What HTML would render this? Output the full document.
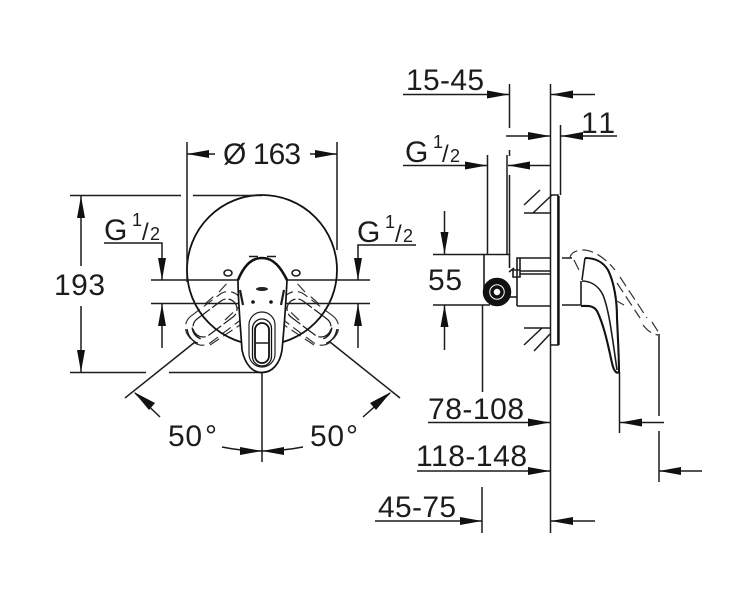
<!DOCTYPE html>
<html>
<head>
<meta charset="utf-8">
<style>
html,body{margin:0;padding:0;background:#fff}
svg{display:block;filter:blur(.35px)}
text{font-family:"Liberation Sans",sans-serif;fill:#1c1c1c;font-size:30px}
.s{font-size:18px}
.sl{font-size:24px}
.l{stroke:#1c1c1c;stroke-width:1.5;fill:none}
.t{stroke:#111;stroke-width:2.1;fill:none;stroke-linejoin:round}
.m{stroke:#1c1c1c;stroke-width:1.6;fill:none}
.d{stroke:#333;stroke-width:1.2;fill:none;stroke-dasharray:11 5}
.a{fill:#111;stroke:none}
</style>
</head>
<body>
<svg width="752" height="600" viewBox="0 0 752 600" xmlns="http://www.w3.org/2000/svg">
<!-- ghost handles (beneath faucet) -->
<g>
<g transform="rotate(-37 215 318)">
<rect x="190" y="308" width="50" height="20" rx="10" class="l" style="stroke-width:1.2" stroke-dasharray="16 3"/>
<rect x="183" y="302" width="64" height="33" rx="14" class="d"/>
<path class="l" d="M186 310Q181 319 186 328M191 312Q187 319 191 326"/>
</g>
<path class="d" d="M219 292L230 280M205 304L214 296M225 320L240 306M210 345L240 325"/>
</g>
<g transform="matrix(-1 0 0 1 524 0)">
<g transform="rotate(-37 215 318)">
<rect x="190" y="308" width="50" height="20" rx="10" class="l" style="stroke-width:1.2" stroke-dasharray="16 3"/>
<rect x="183" y="302" width="64" height="33" rx="14" class="d"/>
<path class="l" d="M186 310Q181 319 186 328M191 312Q187 319 191 326"/>
</g>
<path class="d" d="M219 292L230 280M205 304L214 296M225 320L240 306M210 345L240 325"/>
</g>
<!-- FRONT VIEW -->
<circle cx="262" cy="270" r="75" class="t" style="stroke-width:1.8"/>
<path class="l" d="M187 142V282M337 142V250M70 195.500H181M193 195.500H262M70 372.500H146M169 372.500H262M81 196V266M81 306V372"/>
<path class="l" d="M187 154H215M310 154H337M104 243H162V280M151 280H370M151 303.500H370M162 304V348M358 280V245H416M358 304V348"/>
<path class="l" d="M195 342L125 398M330 342L400 398M135 393L160 417M390 393L363 417M262 372V462M222 447Q242 451 262 451Q282 451 303 447"/>
<g class="a">
<polygon points="187,154 209,150 209,158"/><polygon points="337,154 315,150 315,158"/>
<polygon points="81,196 77,218 85,218"/><polygon points="81,372 77,350 85,350"/>
<polygon points="162,280 158,258 166,258"/><polygon points="162,304 158,326 166,326"/>
<polygon points="358,280 354,258 362,258"/><polygon points="358,304 354,326 362,326"/>
<polygon points="134,392 155,403 149,410"/><polygon points="391,392 376,410 370,403"/>
<polygon points="240,447 262,451 240,455"/><polygon points="284,447 262,451 284,455"/>
</g>
<text x="223" y="164" textLength="78">Ø 163</text>
<text x="54" y="295" textLength="51">193</text>
<text x="168" y="446" textLength="34">50</text><text x="205" y="446">°</text>
<text x="310" y="446" textLength="34">50</text><text x="346" y="446">°</text>
<text x="104" y="240">G</text><text x="132" y="226" class="s">1</text><text x="142" y="240" class="sl">/</text><text x="150" y="240" class="s">2</text>
<text x="357" y="242">G</text><text x="385" y="228" class="s">1</text><text x="395" y="242" class="sl">/</text><text x="403" y="242" class="s">2</text>

<!-- faucet front -->
<path fill="#fff" stroke="#111" stroke-width="1.700" d="M238 280C243 268 250 258 262 258C274 258 281 268 287 280C286 300 285 320 282 350C280 364 272 372.500 262 372.500C252 372.500 245 364 242 350C240 320 238 300 238 280Z"/>
<path class="t" d="M238 280C243 268 250 258 262 258C274 258 281 268 287 280" style="stroke-width:2.600"/>
<path class="m" d="M240 290L243 305M284 290L281 305" style="stroke-width:2.200"/>
<rect x="249" y="312" width="26" height="55" rx="13" class="l" style="fill:#fff;stroke-width:1.200"/>
<rect x="252.500" y="319" width="19" height="47" rx="9.500" class="t" style="stroke-width:1.300"/>
<rect x="255" y="323" width="14" height="40" rx="7" class="t" style="stroke-width:1.800"/>
<path class="l" d="M255 343H269"/>
<ellipse cx="262" cy="289" rx="6" ry="2" fill="#222"/>
<circle cx="253" cy="302" r="1.800" fill="#111"/><circle cx="271" cy="302" r="1.800" fill="#111"/>
<path class="m" d="M249 256.500H258M267 256.500H276"/>
<ellipse cx="228" cy="273" rx="4" ry="3" class="m"/><ellipse cx="296" cy="273" rx="4" ry="3" class="m"/>

<!-- SIDE VIEW dims -->
<path class="l" d="M403 94.500H509M509.500 84V128M509.500 150V156M550.500 84V533M551 94.500H595M506 136H550M561 136H617M560.500 125V195M403 165.500H487M487.500 155V254M507 155V254M509.500 175V254M508 165.500H550"/>
<path class="l" d="M444.500 211V254M433 254.500H484M433 305H490M444.500 305V350M482.500 305V392"/>
<path class="l" d="M524 213H550M524 205L540 190M533 213L552 195M524 328H550M524 345L542 328M534 351L550 334"/>
<path class="l" d="M619.500 372V433M620 422.500H664M659 334V416M659 431V482M659 471H702M428 422.500H550M417 471H550M375 521H482M482 487V533M551 521H595"/>
<g class="a">
<polygon points="509,94.500 487,90.500 487,98.500"/><polygon points="551,94.500 573,90.500 573,98.500"/>
<polygon points="550,136 528,132 528,140"/><polygon points="561,136 583,132 583,140"/>
<polygon points="487,165.500 465,161.500 465,169.500"/><polygon points="508,165.500 530,161.500 530,169.500"/>
<polygon points="444.500,254 440.500,232 448.500,232"/><polygon points="444.500,305 440.500,327 448.500,327"/>
<polygon points="620,422.500 642,418.500 642,426.500"/><polygon points="659,471 681,467 681,475"/>
<polygon points="550,422.500 528,418.500 528,426.500"/><polygon points="550,471 528,467 528,475"/>
<polygon points="482,521 460,517 460,525"/><polygon points="551,521 573,517 573,525"/>
</g>
<text x="406" y="90" textLength="78">15-45</text>
<text x="581" y="133" textLength="34">11</text>
<text x="405" y="162">G</text><text x="433" y="148" class="s">1</text><text x="442" y="162" class="sl">/</text><text x="450" y="162" class="s">2</text>
<text x="428" y="290" textLength="34">55</text>
<text x="428" y="419" textLength="96">78-108</text>
<text x="416" y="466" textLength="111">118-148</text>
<text x="378" y="517" textLength="78">45-75</text>

<!-- panel -->
<path class="m" d="M551 195H558V345H551"/>
<path d="M558.500 196V345" stroke="#111" stroke-width="2.400"/>
<!-- valve body -->
<path class="m" d="M484 288V254.500H509.500V268"/>
<path class="m" d="M517 306V258H550M517 306H550M520 258V271M513 270H520V277H513ZM509 272L514 268M520 271H550M520 274H550"/>
<path class="m" d="M510 297H517"/>
<circle cx="497" cy="292" r="11" fill="none" stroke="#111" stroke-width="6.500"/>
<circle cx="497" cy="292" r="5" fill="none" stroke="#111" stroke-width="3.500"/>
<!-- handle side -->
<path class="m" d="M562 258H572M562 305H581M581 305V281M582 280L585 258"/>
<path class="t" d="M585 258C596 258 603 262 608 270C614 282 617 300 617 318C618 340 619 358 619 372C617 374 614 372 612 363C608 345 604 325 597 311C593 305 588 306 581 306"/>
<path class="m" d="M582 281C590 281 598 285 603 295C609 310 612 335 617 370"/>
<path class="d" d="M570 258Q571 250 585 250Q600 252 615 270M574 260L579 270M620 277L647 318"/>
<path class="d" d="M617 283L640 318M615 300L624 305M643 325Q650 334 658 335M652 322L659 333"/>
</svg>
</body>
</html>
